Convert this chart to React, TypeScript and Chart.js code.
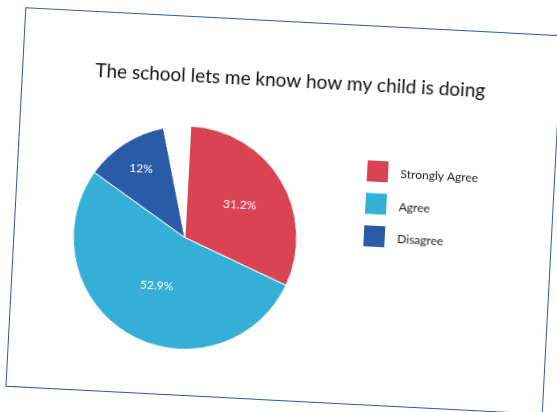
import React, { useEffect, useRef } from "react";
import { Chart, registerables } from "chart.js";

Chart.register(...registerables);

const titleText = "The school lets me know how my child is doing";
const categories = ["Strongly Agree", "Agree", "Disagree", "Strongly Disagree"];
const percentages = [31.2, 52.9, 12, 3.9];
const valueLabels = ["31.2%", "52.9%", "12%", ""];
const sliceColors = ["#D94352", "#35AFD7", "#295BA7", "#FFFFFF"];
const legendCount = 3;

const FONT = "Lato, 'Open Sans', sans-serif";

const titlePlugin = {
  id: "boxTitle",
  afterDraw(chart: any) {
    const ctx = chart.ctx;
    ctx.save();
    ctx.fillStyle = "#111111";
    ctx.font = `19px ${FONT}`;
    ctx.textAlign = "center";
    ctx.textBaseline = "middle";
    ctx.fillText(titleText, chart.width / 2, 59);
    ctx.restore();
  },
};

const labelPlugin = {
  id: "sliceLabels",
  afterDatasetsDraw(chart: any) {
    const ctx = chart.ctx;
    const meta = chart.getDatasetMeta(0);
    const factors = [0.57, 0.5, 0.73, 0.6];
    ctx.save();
    ctx.fillStyle = "#ffffff";
    ctx.font = `12px ${FONT}`;
    ctx.textAlign = "center";
    ctx.textBaseline = "middle";
    meta.data.forEach((arc: any, i: number) => {
      const text = valueLabels[i];
      if (!text) return;
      const mid = (arc.startAngle + arc.endAngle) / 2;
      const r = arc.outerRadius * factors[i];
      ctx.fillText(text, arc.x + Math.cos(mid) * r, arc.y + Math.sin(mid) * r);
    });
    ctx.restore();
  },
};

const legendPlugin = {
  id: "sideLegend",
  afterDraw(chart: any) {
    const ctx = chart.ctx;
    const boxX = 359.5;
    const firstY = 144.5;
    const step = 32.5;
    const size = 21;
    ctx.save();
    ctx.font = `12px ${FONT}`;
    ctx.textAlign = "left";
    ctx.textBaseline = "middle";
    for (let i = 0; i < legendCount; i++) {
      const cy = firstY + i * step;
      ctx.fillStyle = sliceColors[i];
      ctx.fillRect(boxX - size / 2, cy - size / 2, size, size);
      ctx.fillStyle = "#1a1a1a";
      ctx.fillText(String(chart.data.labels[i]), boxX + 23, cy + 2);
    }
    ctx.restore();
  },
};

export default function App() {
  const canvasRef = useRef<HTMLCanvasElement | null>(null);

  useEffect(() => {
    if (!canvasRef.current) return;
    const chart = new Chart(canvasRef.current, {
      type: "pie",
      data: {
        labels: categories,
        datasets: [
          {
            data: percentages,
            backgroundColor: sliceColors,
            borderColor: "#ffffff",
            borderWidth: 1,
          },
        ],
      },
      options: {
        responsive: false,
        animation: false,
        layout: { padding: { left: 58, right: 252, top: 108.6, bottom: 44 } },
        plugins: {
          legend: { display: false },
          tooltip: { enabled: false },
          title: { display: false },
        },
      },
      plugins: [labelPlugin, legendPlugin, titlePlugin],
    });
    return () => chart.destroy();
  }, []);

  return (
    <div
      style={{
        position: "absolute",
        left: 15,
        top: 21,
        width: 538,
        height: 380,
        boxSizing: "border-box",
        border: "1.5px solid #2B5BA8",
        background: "#ffffff",
        transform: "rotate(3deg)",
        transformOrigin: "50% 50%",
      }}
    >
      <canvas ref={canvasRef} width={535} height={377} style={{ display: "block" }} />
    </div>
  );
}
